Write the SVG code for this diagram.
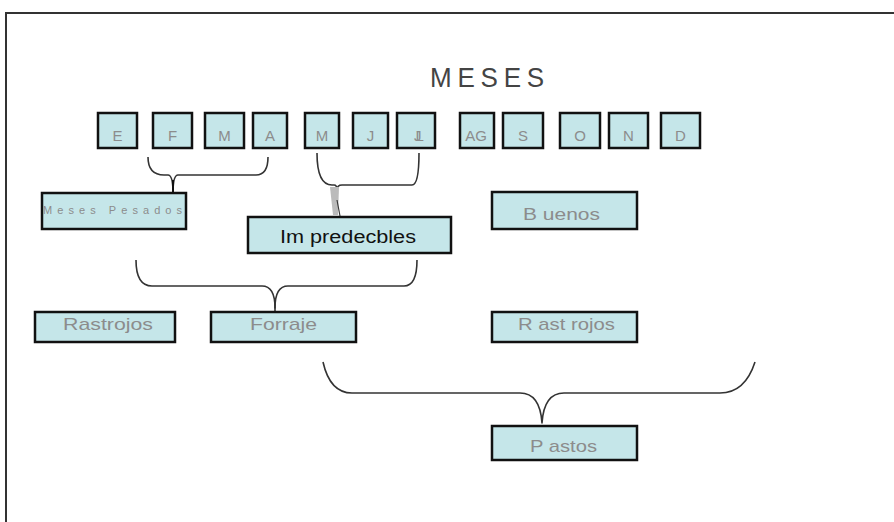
<svg xmlns="http://www.w3.org/2000/svg" width="894" height="522" viewBox="0 0 894 522">
<style>
.box{fill:#c5e6e9;stroke:#111;stroke-width:2.5}
.t{font-family:"Liberation Sans",Arial,sans-serif;fill:#8c8c8c}
.c{text-anchor:middle}
.m{font-size:15px}
.n{font-size:17px}
.br{fill:none;stroke:#333;stroke-width:1.6;stroke-linejoin:round}
</style>
<rect width="894" height="522" fill="#fff"/>
<rect x="6" y="13" width="900" height="520" fill="none" stroke="#333" stroke-width="2"/>
<text x="430" y="87" font-family="'Liberation Sans',Arial,sans-serif" font-size="27" fill="#444" letter-spacing="6" textLength="120" lengthAdjust="spacingAndGlyphs">MESES</text>
<g id="months">
<g id="m-e"><rect class="box" x="98" y="113" width="39" height="35"/><text class="t c m" x="117.5" y="141">E</text></g>
<g id="m-f"><rect class="box" x="153" y="113" width="39" height="35"/><text class="t c m" x="172.5" y="141">F</text></g>
<g id="m-m1"><rect class="box" x="205" y="113" width="39" height="35"/><text class="t c m" x="224.5" y="141">M</text></g>
<g id="m-a"><rect class="box" x="253" y="113" width="34" height="35"/><text class="t c m" x="270" y="141">A</text></g>
<g id="m-m2"><rect class="box" x="305" y="113" width="34" height="35"/><text class="t c m" x="322" y="141">M</text></g>
<g id="m-j"><rect class="box" x="353" y="113" width="35" height="35"/><text class="t c m" x="370.5" y="141">J</text></g>
<g id="m-jl"><rect class="box" x="397" y="113" width="38" height="35"/><text class="t c m" x="416" y="141" letter-spacing="-6">JL</text></g>
<g id="m-ag"><rect class="box" x="460" y="113" width="34" height="35"/><text class="t c m" x="476" y="141">AG</text></g>
<g id="m-s"><rect class="box" x="503" y="113" width="40" height="35"/><text class="t c m" x="523" y="141">S</text></g>
<g id="m-o"><rect class="box" x="560" y="113" width="40" height="35"/><text class="t c m" x="580" y="141">O</text></g>
<g id="m-n"><rect class="box" x="609" y="113" width="39" height="35"/><text class="t c m" x="628.5" y="141">N</text></g>
<g id="m-d"><rect class="box" x="661" y="113" width="39" height="35"/><text class="t c m" x="680.5" y="141">D</text></g>
</g>
<g id="connectors">
<path class="br" stroke="#777" d="M148,157 Q148,175 164,175 L168,175 Q173,175 173,193 Q173,175 178,175 L256,175 Q268,175 268,157"/>
<line x1="173" y1="180" x2="173" y2="193" stroke="#111" stroke-width="2"/>
<path class="br" stroke="#222" d="M317,153 Q317,185 332,185 L334,185 Q337,185 337,190 Q337,185 342,185 L412,185 Q419,185 419,153"/>
<path d="M330,187 L339,187 L338,215 L333,215 Z" fill="#bbb"/>
<line x1="337" y1="200" x2="340" y2="216" stroke="#333" stroke-width="1.2"/>
<path class="br" d="M136,260 Q136,286 152,286 L262,286 Q275,286 275,308 Q275,286 288,286 L404,286 Q417,286 417,260"/>
<line x1="275" y1="300" x2="275" y2="312" stroke="#333" stroke-width="1.6"/>
<path class="br" d="M323,362 Q330,393 352,393 L520,393 Q540,393 542,423 Q544,393 564,393 L720,393 Q745,393 755,362"/>
</g>
<g id="meses-pesados"><rect class="box" x="42" y="193" width="144" height="36"/><text class="t" x="43" y="214" font-size="11" textLength="139" lengthAdjust="spacing">Meses Pesados</text></g>
<g id="impredecibles"><rect class="box" x="248" y="217" width="203" height="36"/><text class="t" x="280" y="243" font-size="18" style="fill:#111" textLength="136" lengthAdjust="spacingAndGlyphs">Im predecbles</text></g>
<g id="buenos"><rect class="box" x="492" y="192" width="145" height="37"/><text class="t n" x="523" y="220" textLength="77" lengthAdjust="spacingAndGlyphs">B uenos</text></g>
<g id="rastrojos-1"><rect class="box" x="35" y="312" width="140" height="30"/><text class="t n" x="63" y="330" textLength="90" lengthAdjust="spacingAndGlyphs">Rastrojos</text></g>
<g id="forraje"><rect class="box" x="211" y="312" width="145" height="30"/><text class="t n" x="250" y="330" textLength="67" lengthAdjust="spacingAndGlyphs">Forraje</text></g>
<g id="rastrojos-2"><rect class="box" x="492" y="312" width="145" height="30"/><text class="t n" x="518" y="330" textLength="97" lengthAdjust="spacingAndGlyphs">R ast rojos</text></g>
<g id="pastos"><rect class="box" x="492" y="426" width="145" height="34"/><text class="t n" x="530" y="452" textLength="67" lengthAdjust="spacingAndGlyphs">P astos</text></g>
</svg>
